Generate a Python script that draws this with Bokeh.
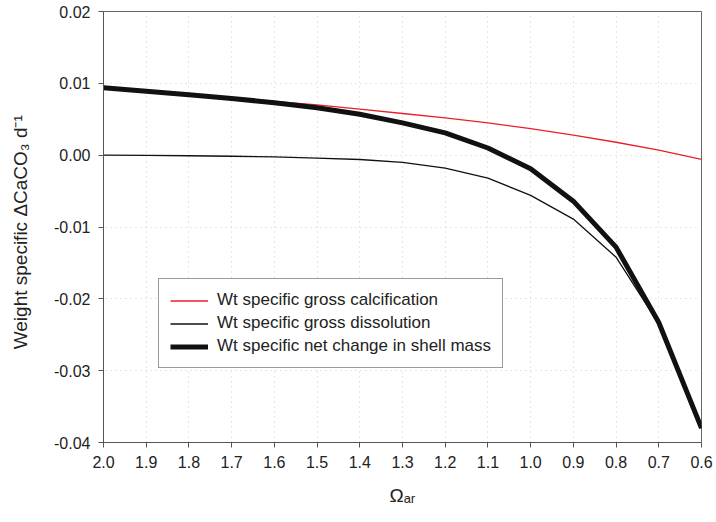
from bokeh.plotting import figure
from bokeh.models import Range1d, FixedTicker, NumeralTickFormatter, Legend, LegendItem, ColumnDataSource
from bokeh.embed import file_html
from bokeh.resources import INLINE

omega = [2.0, 1.9, 1.8, 1.7, 1.6, 1.5, 1.4, 1.3, 1.2, 1.1, 1.0, 0.9, 0.8, 0.7, 0.6]
gross_calc = [0.0093, 0.0089, 0.0084, 0.0079, 0.0075, 0.0070, 0.0064, 0.0058, 0.0052, 0.0045, 0.0037, 0.0028, 0.0018, 0.0007, -0.0006]
gross_diss = [0.0000, -0.00003, -0.00008, -0.00015, -0.00025, -0.0004, -0.0006, -0.0010, -0.0018, -0.0032, -0.0056, -0.0089, -0.0142, -0.0235, -0.0380]
net_change = [0.0094, 0.0089, 0.0084, 0.0079, 0.0073, 0.0066, 0.0057, 0.0045, 0.0031, 0.0010, -0.0019, -0.0064, -0.0128, -0.0233, -0.0380]

x_ticks = [2.0, 1.9, 1.8, 1.7, 1.6, 1.5, 1.4, 1.3, 1.2, 1.1, 1.0, 0.9, 0.8, 0.7, 0.6]
y_ticks = [-0.04, -0.03, -0.02, -0.01, 0.0, 0.01, 0.02]

labels = ["Wt specific gross calcification", "Wt specific gross dissolution", "Wt specific net change in shell mass"]

FONT = "Liberation Sans"

p = figure(width=716, height=522, output_backend="svg", toolbar_location=None,
           x_range=Range1d(2.0, 0.6), y_range=Range1d(-0.04, 0.02),
           min_border_left=103, min_border_right=15, min_border_top=11, min_border_bottom=80)

src = ColumnDataSource(dict(x=omega, calc=gross_calc, diss=gross_diss, net=net_change))
r1 = p.line("x", "calc", source=src, line_color="#e8202a", line_width=1.3)
r2 = p.line("x", "diss", source=src, line_color="#111111", line_width=1.3)
r3 = p.line("x", "net", source=src, line_color="#111111", line_width=5)

p.xaxis.ticker = FixedTicker(ticks=x_ticks)
p.yaxis.ticker = FixedTicker(ticks=y_ticks)
p.xaxis.formatter = NumeralTickFormatter(format="0.0")
p.yaxis.formatter = NumeralTickFormatter(format="0.00")

for ax in (p.xaxis[0], p.yaxis[0]):
    ax.axis_line_color = "#555555"
    ax.major_tick_line_color = "#555555"
    ax.major_tick_out = 5
    ax.major_tick_in = 0
    ax.minor_tick_out = 0
    ax.minor_tick_in = 0
    ax.major_label_text_font = FONT
    ax.major_label_text_font_size = "16px"
    ax.major_label_text_color = "#222222"
    ax.major_label_standoff = 8
    ax.axis_label_text_font = FONT
    ax.axis_label_text_font_style = "normal"
    ax.axis_label_text_color = "#222222"

p.yaxis.axis_label = "Weight specific \u0394CaCO\u2083 d\u207b\u00b9\u00a0\u00a0"
p.yaxis.axis_label_text_font_size = "19px"
p.yaxis.axis_label_standoff = 20

p.xaxis.axis_label = "\u03a9\u2090\u1d63"
p.xaxis.axis_label_text_font_size = "19px"
p.xaxis.axis_label_standoff = 14

p.xgrid.grid_line_color = "#cfcfcf"
p.xgrid.grid_line_dash = "1 4"
p.ygrid.grid_line_color = "#cfcfcf"
p.ygrid.grid_line_dash = "1 4"

p.outline_line_color = "#666666"
p.outline_line_width = 1
p.background_fill_color = "white"
p.border_fill_color = "white"

legend = Legend(items=[LegendItem(label=labels[0], renderers=[r1]),
                       LegendItem(label=labels[1], renderers=[r2]),
                       LegendItem(label=labels[2], renderers=[r3])],
                location=(55, 74))
legend.label_text_font = FONT
legend.label_text_font_size = "17px"
legend.label_text_color = "#222222"
legend.glyph_width = 38
legend.glyph_height = 19
legend.label_height = 19
legend.label_standoff = 9
legend.spacing = 3
legend.padding = 11
legend.margin = 0
legend.border_line_color = "#333333"
legend.border_line_width = 1.5
legend.background_fill_alpha = 1
p.add_layout(legend)

open("out.html", "w").write(file_html(p, INLINE))
